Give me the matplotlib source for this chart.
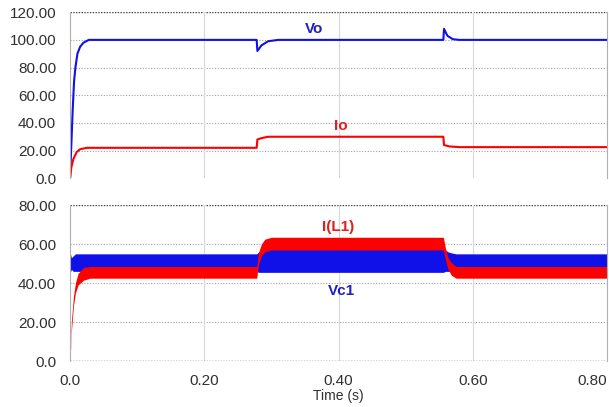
import matplotlib
matplotlib.use("Agg")
import matplotlib.pyplot as plt

plt.rcParams['font.family'] = ['Liberation Sans', 'DejaVu Sans']

# top panel: output voltage and current
vo_t = [0, 0.002, 0.004, 0.006, 0.008, 0.011, 0.015, 0.02, 0.028, 0.278, 0.279, 0.285, 0.295, 0.31,
        0.556, 0.557, 0.562, 0.57, 0.58, 0.80]
vo_v = [0, 25, 50, 70, 80, 90, 95, 98, 100, 100, 92, 96, 99, 100,
        100, 108, 103, 100.5, 100, 100]
io_t = [0, 0.002, 0.005, 0.01, 0.015, 0.025, 0.278, 0.279, 0.285, 0.295, 0.556, 0.557, 0.565, 0.58, 0.80]
io_v = [0, 8, 14, 19, 21, 22, 22, 28, 29, 30, 30, 24, 23, 22.5, 22.5]

# bottom panel: ripple envelopes of Vc1 and I(L1)
band_t = [0, 0.002, 0.005, 0.008, 0.012, 0.02, 0.03, 0.278, 0.281, 0.285, 0.29, 0.30,
          0.556, 0.559, 0.563, 0.568, 0.575, 0.80]
vc1_lo = [45, 47, 46, 46, 46, 46, 46, 46, 45.5, 45.5, 45.5, 45.5,
          45.5, 46, 46, 46, 46, 46]
vc1_hi = [56, 53, 54, 55, 55, 55, 55, 55, 56, 57, 58, 58,
          58, 57, 56, 55.5, 55, 55]
il1_lo = [0, 15, 28, 35, 39, 41.5, 42.5, 42.5, 50, 54, 56, 57,
          57, 52, 47, 44, 42.5, 42.5]
il1_hi = [0, 20, 33, 40, 45, 48, 48.5, 48.5, 56, 60, 62.5, 63.5,
          63.5, 58, 53, 50.5, 48.5, 48.5]

x_ticks = [0, 0.2, 0.4, 0.6, 0.8]
x_labels = ['0.0', '0.20', '0.40', '0.60', '0.80']
top_ticks = [0, 20, 40, 60, 80, 100, 120]
top_labels = ['0.0', '20.00', '40.00', '60.00', '80.00', '100.00', '120.00']
bot_ticks = [0, 20, 40, 60, 80]
bot_labels = ['0.0', '20.00', '40.00', '60.00', '80.00']

blue = '#1010e8'
red = '#ff0000'

fig = plt.figure(figsize=(6.09, 4.07), dpi=100)
ax1 = fig.add_axes([0.115, 0.562, 0.882, 0.408])
ax2 = fig.add_axes([0.115, 0.113, 0.882, 0.383])


def style(ax, ticks, labels, ymax):
    ax.set_xlim(0, 0.8)
    ax.set_ylim(0, ymax)
    ax.set_yticks(ticks)
    ax.set_yticklabels(labels)
    ax.set_xticks(x_ticks)
    for y in ticks[1:-1]:
        ax.axhline(y, color='#a0a0a0', ls=(0, (1, 1.5)), lw=0.8, zorder=0)
    ax.axhline(ticks[-1], color='#404040', ls=(0, (1, 1)), lw=1.0, zorder=0)
    for x in x_ticks[1:-1]:
        ax.axvline(x, color='#d8d8d8', lw=0.8, zorder=0)
    for s in ['top', 'bottom']:
        ax.spines[s].set_visible(False)
    for s in ['left', 'right']:
        ax.spines[s].set_color('#b0b0b0')
        ax.spines[s].set_linewidth(0.8)
    ax.tick_params(length=0, labelsize=11, labelcolor='#303030')
    ax.tick_params(axis='y', pad=10)
    ax.tick_params(axis='x', pad=9)


style(ax1, top_ticks, top_labels, 120)
ax1.set_xticklabels([])
ax1.plot(vo_t, vo_v, color=blue, lw=1.5)
ax1.plot(io_t, io_v, color=red, lw=1.5)
ax1.text(0.363, 108, 'Vo', color='#2020c0', fontsize=11, fontweight='bold', ha='center', va='center')
ax1.text(0.403, 38, 'Io', color='#e02020', fontsize=11, fontweight='bold', ha='center', va='center')

style(ax2, bot_ticks, bot_labels, 80)
ax2.axhline(0, color='#404040', ls=(0, (1, 1)), lw=1.0, zorder=0)
ax2.set_xticklabels(x_labels)
ax2.get_xticklabels()[-1].set_ha('right')
ax2.fill_between(band_t, vc1_lo, vc1_hi, color=blue, lw=0)
ax2.fill_between(band_t, il1_lo, il1_hi, color=red, lw=0)
ax2.text(0.40, 69, 'I(L1)', color='#e02020', fontsize=11, fontweight='bold', ha='center', va='center')
ax2.text(0.404, 36, 'Vc1', color='#2020c0', fontsize=11, fontweight='bold', ha='center', va='center')
ax2.set_xlabel('Time (s)', fontsize=10, color='#303030', labelpad=1)

fig.savefig('out.png', dpi=100)
